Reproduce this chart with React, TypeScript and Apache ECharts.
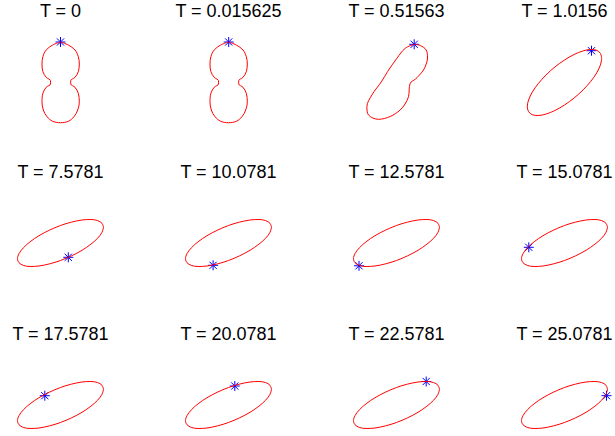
import React, { useEffect, useRef } from "react";
import * as echarts from "echarts";

const titles = [
  "T = 0", "T = 0.015625", "T = 0.51563", "T = 1.0156",
  "T = 7.5781", "T = 10.0781", "T = 12.5781", "T = 15.0781",
  "T = 17.5781", "T = 20.0781", "T = 22.5781", "T = 25.0781",
];

// closed curves (x right, y up, about the panel centre)
const peanut: number[][] = [
  [0, 40.5], [7.8, 37.5], [14.5, 32.5], [17.8, 25.8], [18.8, 18.5], [17.8, 10.8], [14.5, 5.2], [10.2, 1.8],
  [10.2, -1.5], [14.5, -4.8], [17.8, -10.8], [18.8, -19.2], [17.2, -27.5], [13.5, -34.2], [7.8, -38.8], [0, -40.2],
  [-7.8, -38.8], [-13.5, -34.2], [-17.2, -27.5], [-18.5, -19.2], [-17.6, -10.8], [-14.3, -4.8], [-10, -1.5],
  [-10, 1.8], [-14.3, 5.2], [-17.6, 10.8], [-18.5, 18.5], [-17.6, 25.8], [-14.3, 32.5], [-7.8, 37.5], [0, 40.5],
];

const tiltedPeanut: number[][] = [
  [17.7, 38.2], [23.7, 37], [29.7, 32.5], [31, 24.5], [29.7, 18.5], [27, 12.5], [22.5, 7], [18.7, 3.2],
  [13.7, -0.8], [12, -14.2], [8.5, -21.5], [3.7, -27.5], [-6.3, -34], [-18, -36.8], [-28, -32.5], [-29.6, -24.2],
  [-24.6, -12.5], [-14.6, 1.5], [-9, 10.8], [0.4, 24.2], [8.7, 34.2], [17.7, 38.2],
];

const diagEllipse: number[][] = [
  [37.2, 24.1], [35.9, 29.1], [32.2, 32.2], [26.3, 33.0], [18.6, 31.6], [9.6, 28.0], [0, 22.5], [-9.6, 15.5],
  [-18.6, 7.4], [-26.3, -1.2], [-32.2, -9.6], [-35.9, -17.5], [-37.2, -24.1], [-35.9, -29.1], [-32.2, -32.2],
  [-26.3, -33.0], [-18.6, -31.6], [-9.6, -28.0], [0, -22.5], [9.6, -15.5], [18.6, -7.4], [26.3, 1.2],
  [32.2, 9.6], [35.9, 17.5], [37.2, 24.1],
];

const steadyEllipse: number[][] = [
  [43, 15.7], [41.5, 19.7], [37.2, 22.4], [30.4, 23.5], [21.5, 23.0], [11.1, 20.9], [0, 17.5], [-11.1, 12.8],
  [-21.5, 7.3], [-30.4, 1.2], [-37.2, -4.9], [-41.5, -10.7], [-43, -15.7], [-41.5, -19.7], [-37.2, -22.4],
  [-30.4, -23.5], [-21.5, -23.0], [-11.1, -20.9], [0, -17.5], [11.1, -12.8], [21.5, -7.3], [30.4, -1.2],
  [37.2, 4.9], [41.5, 10.7], [43, 15.7],
];

const curves = [
  peanut, peanut, tiltedPeanut, diagEllipse,
  steadyEllipse, steadyEllipse, steadyEllipse, steadyEllipse,
  steadyEllipse, steadyEllipse, steadyEllipse, steadyEllipse,
];

const stars: number[][] = [
  [0, 40.5], [0.2, 40.5], [17.7, 38.2], [27, 31.8],
  [7.8, -14.3], [-15.4, -22.3], [-37.5, -22.8], [-35.7, -4.3],
  [-15.7, 9.3], [6.3, 19], [29.7, 23.5], [42, 9.3],
];

const colCenters = [60.5, 228.5, 396.5, 564.5];
const rowCenters = [82.5, 243, 405];
const titleCenters = [11.5, 172.7, 334.5];

export default function App() {
  const ref = useRef<HTMLDivElement>(null);
  useEffect(() => {
    if (!ref.current) return;
    const chart = echarts.init(ref.current, null, { renderer: "svg" });
    const grids: any[] = [];
    const xAxes: any[] = [];
    const yAxes: any[] = [];
    const series: any[] = [];
    const titleOpts: any[] = [];
    const half = 50;
    titles.forEach((t, i) => {
      const r = Math.floor(i / 4);
      const c = i % 4;
      const cx = colCenters[c];
      const cy = rowCenters[r];
      const below = Math.min(half, 436 - cy - 1);
      grids.push({ left: cx - half, top: cy - half, width: half * 2, height: half + below, containLabel: false });
      xAxes.push({ type: "value", gridIndex: i, min: -half, max: half, show: false });
      yAxes.push({ type: "value", gridIndex: i, min: -below, max: half, show: false });
      titleOpts.push({
        text: t,
        left: cx,
        top: titleCenters[r] - 10,
        textAlign: "center",
        padding: 0,
        textStyle: { fontSize: 18, fontWeight: "normal", color: "#000", fontFamily: "Liberation Sans, Arial, sans-serif" },
      });
      series.push({
        type: "line",
        xAxisIndex: i,
        yAxisIndex: i,
        data: curves[i],
        smooth: 0.35,
        showSymbol: false,
        symbol: "none",
        clip: false,
        lineStyle: { color: "#ff0000", width: 1 },
      });
      series.push({
        type: "custom",
        xAxisIndex: i,
        yAxisIndex: i,
        data: [stars[i]],
        clip: false,
        renderItem: (params: any, api: any) => {
          const p = api.coord([api.value(0), api.value(1)]);
          const rr = 5;
          const d = 3.6;
          const st = { stroke: "#0000ff", lineWidth: 1 };
          return {
            type: "group",
            children: [
              { type: "line", shape: { x1: p[0] - rr, y1: p[1], x2: p[0] + rr, y2: p[1] }, style: st },
              { type: "line", shape: { x1: p[0], y1: p[1] - rr, x2: p[0], y2: p[1] + rr }, style: st },
              { type: "line", shape: { x1: p[0] - d, y1: p[1] - d, x2: p[0] + d, y2: p[1] + d }, style: st },
              { type: "line", shape: { x1: p[0] - d, y1: p[1] + d, x2: p[0] + d, y2: p[1] - d }, style: st },
            ],
          };
        },
      });
    });
    chart.setOption({
      animation: false,
      backgroundColor: "#ffffff",
      title: titleOpts,
      grid: grids,
      xAxis: xAxes,
      yAxis: yAxes,
      series,
    });
    return () => chart.dispose();
  }, []);
  return <div ref={ref} style={{ position: "fixed", left: 0, top: 0, width: 615, height: 436 }} />;
}
